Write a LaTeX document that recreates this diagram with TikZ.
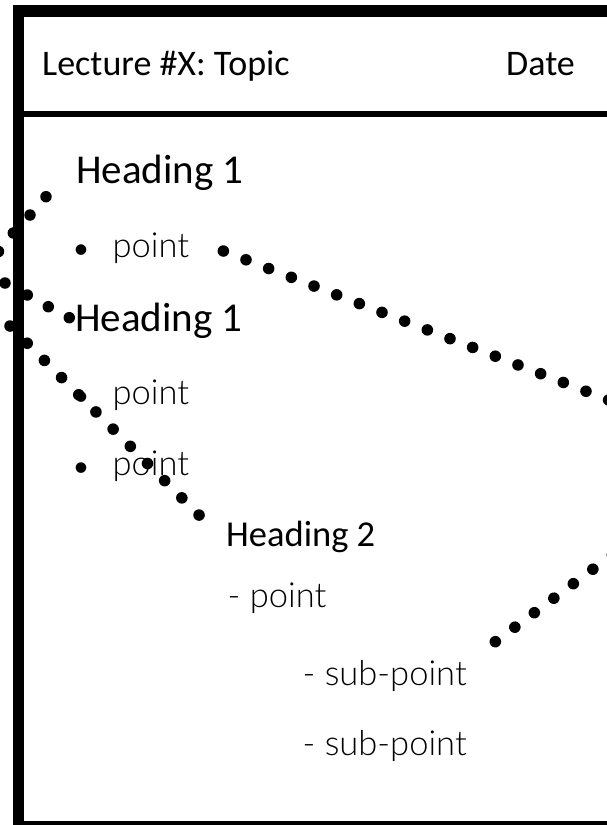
\documentclass[tikz,border=0pt]{standalone}
\usepackage{fontspec}
\setmainfont{Carlito}
\newfontfamily\lightfont{Lato Light}
\begin{document}
\begin{tikzpicture}[x=1pt,y=-1pt,
  frame/.style={line width=11.5pt},
  divider/.style={line width=5.5pt},
  dotline/.style={line width=11.5pt, line cap=round, dash pattern=on 0.1pt off 24.2pt},
  txt/.style={inner sep=0pt, anchor=base west},
  hdr/.style={txt, font=\fontsize{36}{40}\selectfont},
  hone/.style={txt, font=\fontsize{41}{46}\selectfont},
  htwo/.style={txt, font=\fontsize{36.5}{42}\selectfont},
  body/.style={txt, font=\lightfont\fontsize{34.5}{40}\selectfont},
  bul/.style={inner sep=0pt, anchor=base, font=\fontsize{30}{36}\selectfont},
]
\useasboundingbox (0,0) rectangle (607,825);
\clip (0,0) rectangle (607,825);
\fill[white] (0,0) rectangle (607,825);
% frame
\coordinate (tl) at (18.4,11.2);
\coordinate (br) at (650,826.5);
\draw[frame] (tl) rectangle (br);
\coordinate (dl) at (24,114);
\coordinate (dr) at (650,114);
\draw[divider] (dl) -- (dr);
% texts
\node[hdr] (title) at (42,75) {Lecture \#X: Topic};
\node[hdr] (date) at (506,75) {Date};
\node[hone] (h1a) at (76,183.3) {Heading 1};
\node[bul] (b1) at (81,258.5) {•};
\node[body] (p1) at (112.5,257.3) {point};
\node[hone] (h1b) at (75,331.7) {Heading 1};
\node[bul] (b2) at (81,405.2) {•};
\node[body] (p2) at (112.5,404) {point};
\node[bul] (b3) at (81,476.2) {•};
\node[body] (p3) at (112.5,475) {point};
\node[htwo] (h2) at (226,546.7) {Heading 2};
\node[body] (p4) at (227.5,607) {- point};
\node[body] (s1) at (302.5,685) {- sub-point};
\node[body] (s2) at (302.5,755) {- sub-point};
% dotted strokes
\coordinate (a0) at (223.3,251);
\coordinate (a1) at (650,416);
\draw[dotline] (a0) -- (a1);
\coordinate (c0) at (10,326);
\coordinate (c1) at (199.7,515.7);
\draw[dotline] (c0) -- (c1);
\coordinate (e0) at (495.3,641.7);
\coordinate (e1) at (650,526.7);
\draw[dotline] (e0) -- (e1);
\foreach \p in {(69.3,317.7),(48.3,306.7),(27.3,295),(5,283),(-1.5,251.5),(13.3,233),(30,215),(46,196.7)}
  \fill \p circle (5.75);
\end{tikzpicture}
\end{document}
